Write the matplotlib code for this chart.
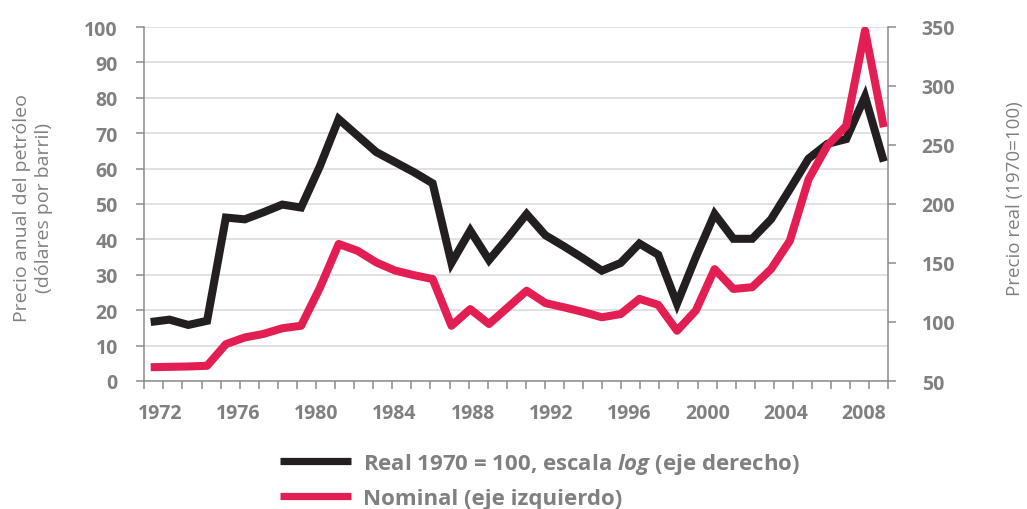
import numpy as np
import matplotlib
matplotlib.use("Agg")
import matplotlib.pyplot as plt
from matplotlib.lines import Line2D

# ---------------- data ----------------
years = list(range(1970, 2010))
# Real price, 1970 = 100 (right axis)
real = [100, 102, 97.5, 101, 188.5, 187, 193, 199.5, 197, 232,
        272, 258, 244, 235.5, 227, 217.5, 150, 177.5, 152.5, 171.5,
        191.5, 173.5, 164, 154, 143.5, 150, 166.5, 157, 115.5, 155,
        191.5, 170.5, 170.5, 187, 212.5, 238.5, 251, 255, 291, 236]
# Nominal price, dollars per barrel (left axis)
nominal = [3.9, 4.0, 4.1, 4.3, 10.4, 12.3, 13.3, 14.9, 15.6, 26.3,
           38.7, 36.8, 33.5, 31.2, 29.9, 28.8, 15.6, 20.3, 16.1, 20.8,
           25.5, 22.0, 20.8, 19.5, 18.0, 18.9, 23.2, 21.5, 14.2, 19.9,
           31.6, 26.0, 26.5, 31.6, 39.6, 57.0, 66.5, 72.1, 99.0, 71.7]

left_ticks = list(range(0, 101, 10))
right_ticks = list(range(50, 351, 50))
label_years = list(range(1972, 2009, 4))

ylabel_left = "Precio anual del petróleo\n(dólares por barril)"
ylabel_right = "Precio real (1970=100)"
legend_labels = ["Real 1970 = 100, escala $\\mathit{log}$ (eje derecho)",
                 "Nominal (eje izquierdo)"]

# ---------------- style ----------------
BLACK = "#231f20"
RED = "#e31e52"
GRAY_TXT = "#808080"
GRAY_AX = "#8c8c8c"
GRID = "#d9d9d9"

plt.rcParams["font.family"] = ["Open Sans", "DejaVu Sans"]
plt.rcParams["mathtext.fontset"] = "custom"
plt.rcParams["mathtext.it"] = "Open Sans:italic:bold"
plt.rcParams["mathtext.rm"] = "Open Sans:bold"

W, H = 1027, 510
fig = plt.figure(figsize=(W / 100, H / 100), dpi=100)
fig.patch.set_facecolor("white")

L, R, T, B = 144.3, 888.3, 28, 382
ax = fig.add_axes([L / W, 1 - B / H, (R - L) / W, (B - T) / H])
ax2 = ax.twinx()

xlim = (1969.66, 2009.24)
ax.set_xlim(*xlim)
ax.set_ylim(0, 100)
ax2.set_ylim(50, 350)

# grid
ax.set_yticks(left_ticks)
ax.grid(axis="y", color=GRID, linewidth=1.1)
ax.set_axisbelow(True)

# lines
ax2.plot(years, real, color=BLACK, linewidth=5.8, solid_joinstyle="miter",
         solid_capstyle="butt", zorder=3)
ax2.plot(years, nominal, color=RED, linewidth=5.8, solid_joinstyle="round",
         solid_capstyle="butt", zorder=4, transform=ax.transData)

# spines
for a in (ax, ax2):
    a.spines["top"].set_visible(False)
    for s in a.spines.values():
        s.set_color(GRAY_AX)
        s.set_linewidth(1.1)
ax.spines["right"].set_visible(False)
ax2.spines["left"].set_visible(False)
ax2.spines["bottom"].set_visible(False)

ax.tick_params(axis="y", direction="out", length=6, width=1.1, color=GRAY_AX,
               pad=13, labelsize=14, labelcolor=GRAY_TXT)
ax2.set_yticks(right_ticks)
ax2.tick_params(axis="y", direction="out", length=6, width=1.1, color=GRAY_AX,
                pad=18, labelsize=14, labelcolor=GRAY_TXT)
for lab in ax.get_yticklabels() + ax2.get_yticklabels():
    lab.set_fontweight("bold")

# x axis: minor ticks evenly spaced, labels slightly stretched as in the original
ax.set_xticks(np.linspace(xlim[0], xlim[1], 40), minor=True)
label_pos = [label_years[-1] - 0.07 - (label_years[-1] - y) * 1.04 for y in label_years]
ax.set_xticks(label_pos)
ax.set_xticklabels([str(y) for y in label_years], fontweight="bold")
ax.tick_params(axis="x", which="major", length=0, pad=16, labelsize=14,
               labelcolor=GRAY_TXT)
ax.tick_params(axis="x", which="minor", direction="out", length=6, width=1.1,
               color=GRAY_AX)

# axis titles
fig.text(33 / W, 1 - 208 / H, ylabel_left, rotation=90, ha="center", va="center",
         fontsize=14, color=GRAY_TXT, linespacing=1.25, multialignment="center")
fig.text(1015 / W, 1 - 199 / H, ylabel_right, rotation=90, ha="center", va="center",
         fontsize=13.5, color=GRAY_TXT)

# legend
handles = [Line2D([], [], color=BLACK, linewidth=5.2, solid_capstyle="butt"),
           Line2D([], [], color=RED, linewidth=5.2, solid_capstyle="butt")]
leg = fig.legend(handles, legend_labels, loc="upper left",
                 bbox_to_anchor=(280 / W, 1 - 452 / H), frameon=False,
                 borderpad=0, borderaxespad=0, handlelength=3.2,
                 handletextpad=0.55, labelspacing=0.55,
                 prop=dict(size=16, weight="bold"))
for t in leg.get_texts():
    t.set_color(GRAY_TXT)

fig.savefig("out.png", dpi=100, facecolor="white")
